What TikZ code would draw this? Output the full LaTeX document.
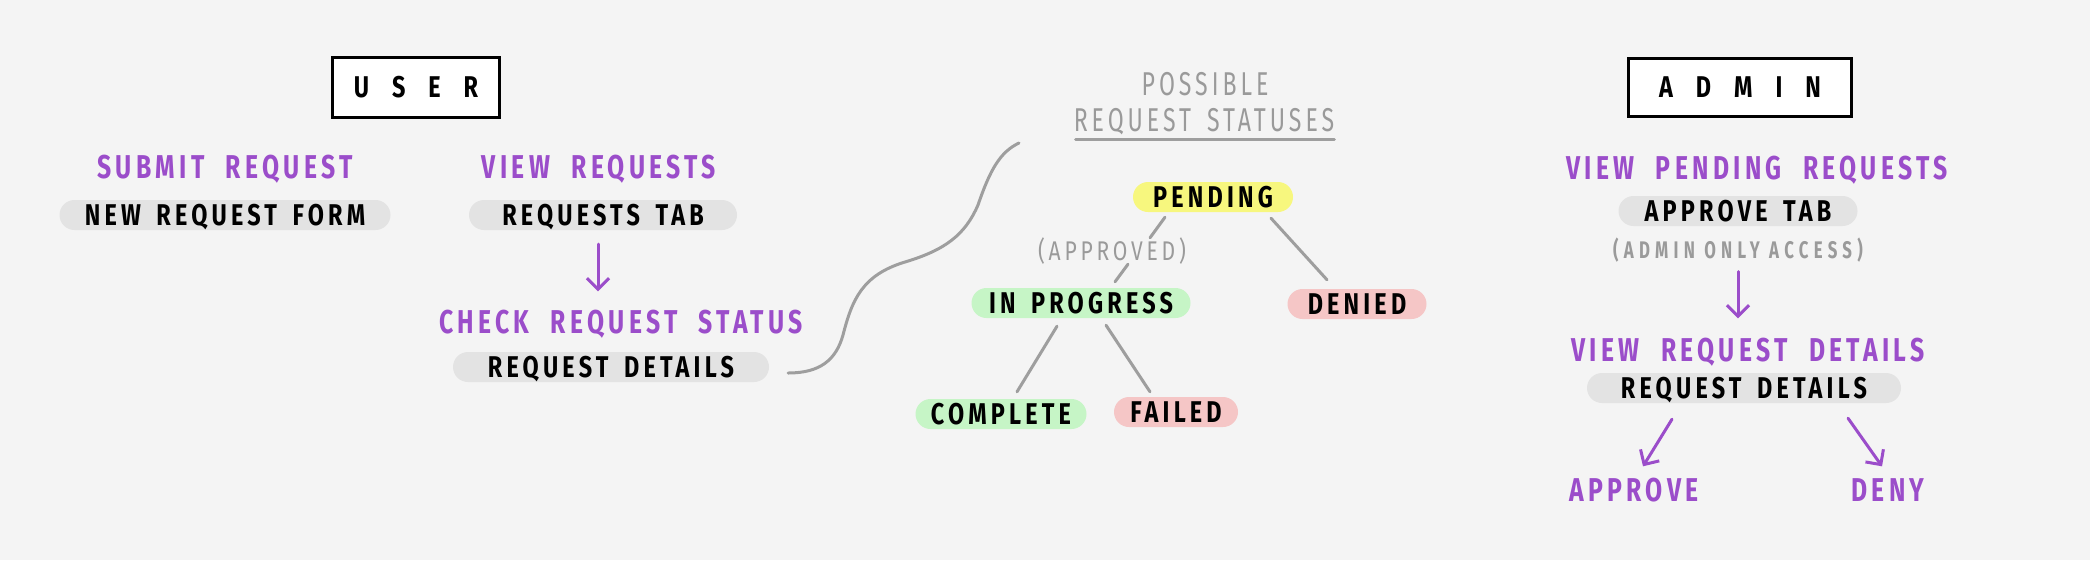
\documentclass[tikz,border=0pt]{standalone}
\usepackage{fontspec}
\usetikzlibrary{calc,arrows.meta}
\newfontfamily\hand[FakeStretch=0.78,LetterSpace=14,WordSpace=1.6]{Fira Sans}
\newfontfamily\handp[FakeStretch=0.75,LetterSpace=13,WordSpace=2.1]{Fira Sans}
\newfontfamily\handg[FakeStretch=0.70,LetterSpace=12,WordSpace=1.6]{Fira Sans}
\newfontfamily\handwide[FakeStretch=0.70,LetterSpace=22]{Fira Sans}
\definecolor{bg}{HTML}{F4F4F4}
\definecolor{purp}{HTML}{9B4DCA}
\definecolor{pillgray}{HTML}{E3E3E3}
\definecolor{yel}{HTML}{F7F77E}
\definecolor{grn}{HTML}{C6F5C6}
\definecolor{pnk}{HTML}{F5C6C6}
\definecolor{txtgray}{HTML}{9A9A9A}
\definecolor{linegray}{HTML}{9E9E9E}
\begin{document}
\begin{tikzpicture}[x=1pt,y=-1pt,
  ptxt/.style={inner sep=0pt,text height=23pt,text depth=0pt,text=purp,font=\handp\bfseries\fontsize{33}{33}\selectfont},
  gtxt/.style={inner sep=0pt,text height=23pt,text depth=0pt,text=txtgray,font=\handg\fontsize{33}{33}\selectfont},
  stxt/.style={inner sep=0pt,text height=17pt,text depth=0pt,text=txtgray,font=\handwide\bfseries\fontsize{24}{24}\selectfont},
  pill/.style={fill=#1,rounded corners=15pt,minimum height=30pt,inner sep=0pt,text height=21pt,text depth=0pt,font=\hand\bfseries\fontsize{30}{30}\selectfont},
  titlebox/.style={draw,line width=3pt,fill=white,inner sep=0pt,text height=21pt,text depth=0pt,font=\hand\bfseries\fontsize{30}{30}\selectfont},
  conn/.style={draw=linegray,line width=3pt,line cap=round},
  arr/.style={draw=purp,line width=3pt,line cap=round,-{Straight Barb[length=11pt,width=22pt,line width=3pt]}}
]
\fill[bg] (0,0) rectangle (2090,560);
\useasboundingbox (0,0) rectangle (2090,560);

% USER side
\node[titlebox,minimum width=167pt,minimum height=60pt] (user) at (416,87) {U\hspace{23pt}S\hspace{23pt}E\hspace{23pt}R};
\node[ptxt] (submit) at (225,167) {SUBMIT REQUEST};
\node[ptxt] (viewreq) at (599,167) {VIEW REQUESTS};
\node[pill=pillgray,minimum width=331pt] (newform) at (225,215) {NEW REQUEST FORM};
\node[pill=pillgray,minimum width=268pt] (reqtab) at (603,215) {REQUESTS TAB};
\node[ptxt] (check) at (621,322) {CHECK REQUEST STATUS};
\node[pill=pillgray,minimum width=316pt] (reqdet) at (611,367) {REQUEST DETAILS};
\draw[arr] ($(reqtab.south)+(-5,14)$) -- ($(check.north)+(-23,-19)$);

% statuses
\node[gtxt] (possible) at (1205,84) {POSSIBLE};
\node[gtxt] (statuses) at (1204,120) {REQUEST STATUSES};
\draw[conn] ($(statuses.south west)+(2,8)$) -- ($(statuses.south east)+(0,8)$);
\coordinate (cend) at (1019,143);
\draw[conn] ($(reqdet.east)+(19,6)$) .. controls (820,373) and (836,360) .. (843,335)
  .. controls (852,300) and (862,275) .. (905,262)
  .. controls (945,250) and (965,235) .. (978,205)
  .. controls (990,170) and (1000,152) .. (cend);

\node[pill=yel,minimum width=160pt] (pending) at (1213,197) {PENDING};
\node[stxt,font=\hand\fontsize{27}{27}\selectfont,text height=18pt] (approved) at (1112,251) {(APPROVED)};
\node[pill=grn,minimum width=219pt] (inprog) at (1081,303) {IN PROGRESS};
\node[pill=pnk,minimum width=139pt] (denied) at (1357,304) {DENIED};
\node[pill=grn,minimum width=171pt] (complete) at (1001,414) {COMPLETE};
\node[pill=pnk,minimum width=124pt] (failed) at (1176,412) {FAILED};

\draw[conn] ($(pending.south)+(-48,5)$) -- ($(approved.north)+(38,-4)$);
\draw[conn] ($(approved.south)+(16,4)$) -- ($(inprog.north)+(34,-6)$);
\draw[conn] ($(pending.south)+(58,6)$) -- ($(denied.north)+(-30,-9)$);
\draw[conn] ($(inprog.south)+(-24,8)$) -- ($(complete.north)+(16,-7)$);
\draw[conn] ($(inprog.south)+(25,7)$) -- ($(failed.north)+(-26,-5)$);

% ADMIN side
\node[titlebox,minimum width=223pt,minimum height=58pt] (admin) at (1740,87) {A\hspace{23pt}D\hspace{23pt}M\hspace{23pt}I\hspace{23pt}N};
\node[ptxt] (viewpend) at (1757,168) {VIEW PENDING REQUESTS};
\node[pill=pillgray,minimum width=239pt] (approvetab) at (1738,211) {APPROVE TAB};
\node[stxt] (adminonly) at (1738,250) {(ADMIN ONLY ACCESS)};
\node[ptxt] (viewdet) at (1748,350) {VIEW REQUEST DETAILS};
\node[pill=pillgray,minimum width=314pt] (reqdet2) at (1744,388) {REQUEST DETAILS};
\node[ptxt] (approve) at (1634,490) {APPROVE};
\node[ptxt] (deny) at (1888,490) {DENY};
\draw[arr] ($(adminonly.south)+(0,13)$) -- ($(viewdet.north)+(-10,-20)$);
\draw[arr] ($(reqdet2.south)+(-72,16)$) -- ($(approve.north)+(9,-12)$);
\draw[arr] ($(reqdet2.south)+(104,15)$) -- ($(deny.north)+(-6,-12)$);
\end{tikzpicture}
\end{document}
